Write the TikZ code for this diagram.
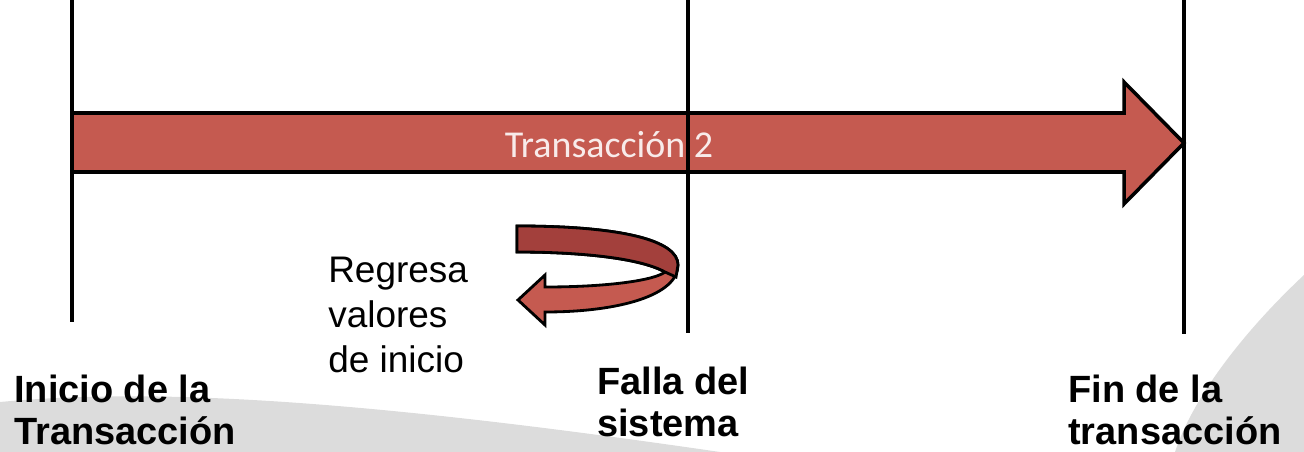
\documentclass[tikz,border=0pt]{standalone}
\usepackage{fontspec}
\setmainfont{Liberation Sans}
\newfontfamily\calibri{Carlito}
\usetikzlibrary{calc}
\definecolor{rojo}{RGB}{197,90,80}
\definecolor{rojoosc}{RGB}{163,64,60}
\definecolor{gris}{RGB}{220,220,220}
\tikzset{linea/.style={line width=2.5pt},flecha/.style={draw,line width=2.5pt,fill=rojo,line join=miter}}
\tikzset{etq/.style={inner sep=0pt,anchor=north west,align=left,font=\fontsize{27}{30}\selectfont\bfseries},nota/.style={inner sep=0pt,anchor=north west,align=left,font=\fontsize{26.3}{32}\selectfont}}

\begin{document}
\begin{tikzpicture}[x=0.025cm,y=-0.025cm]
  \useasboundingbox (0,0) rectangle (1304,452);
  % fondo
  \fill[gris] (0,402) .. controls (150,388) and (350,398) .. (720,452) -- (0,452) -- cycle;
  \fill[gris] (1304,275) .. controls (1240,335) and (1192,400) .. (1175,452) -- (1304,452) -- cycle;
  % flecha de la transaccion
  \draw[flecha] (72,113) -- (1124,113) -- (1124,82) -- (1184,143) -- (1124,204) -- (1124,172) -- (72,172) -- cycle;
  \node[text=white!88!rojo, font=\calibri\fontsize{27}{30}\selectfont] (t2) at (609,145) {Transacción 2};
  % flecha que regresa
  \draw[flecha, line width=2pt] (517,226) .. controls (620,226) and (678,240) .. (678,265)
    .. controls (678,295) and (620,312) .. (545,312) -- (545,325) -- (518,300) -- (545,275) -- (545,287)
    .. controls (610,287) and (655,280) .. (665,272) .. controls (640,258) and (580,252) .. (517,252) -- cycle;
  \draw[flecha, fill=rojoosc, line width=2pt] (517,226) .. controls (620,226) and (678,240) .. (678,265)
    -- (676,277) -- (665,272) .. controls (640,258) and (580,252) .. (517,252) -- cycle;
  % lineas de tiempo
  \coordinate (ini1) at (72,0);   \coordinate (ini2) at (72,322);
  \coordinate (fal1) at (688,0);  \coordinate (fal2) at (688,333);
  \coordinate (fin1) at (1184,0); \coordinate (fin2) at (1184,334);
  \draw[linea] (ini1) -- (ini2) (fal1) -- (fal2) (fin1) -- (fin2);
  % textos
  \node[nota] (regresa) at (328,257) {Regresa\\valores\\de inicio};
  \node[etq] (inicio) at (14,375) {Inicio de la\\Transacción};
  \node[etq] (falla) at (597,367) {Falla del\\sistema};
  \node[etq] (fin) at (1068,375) {Fin de la\\transacción};
\end{tikzpicture}
\end{document}
